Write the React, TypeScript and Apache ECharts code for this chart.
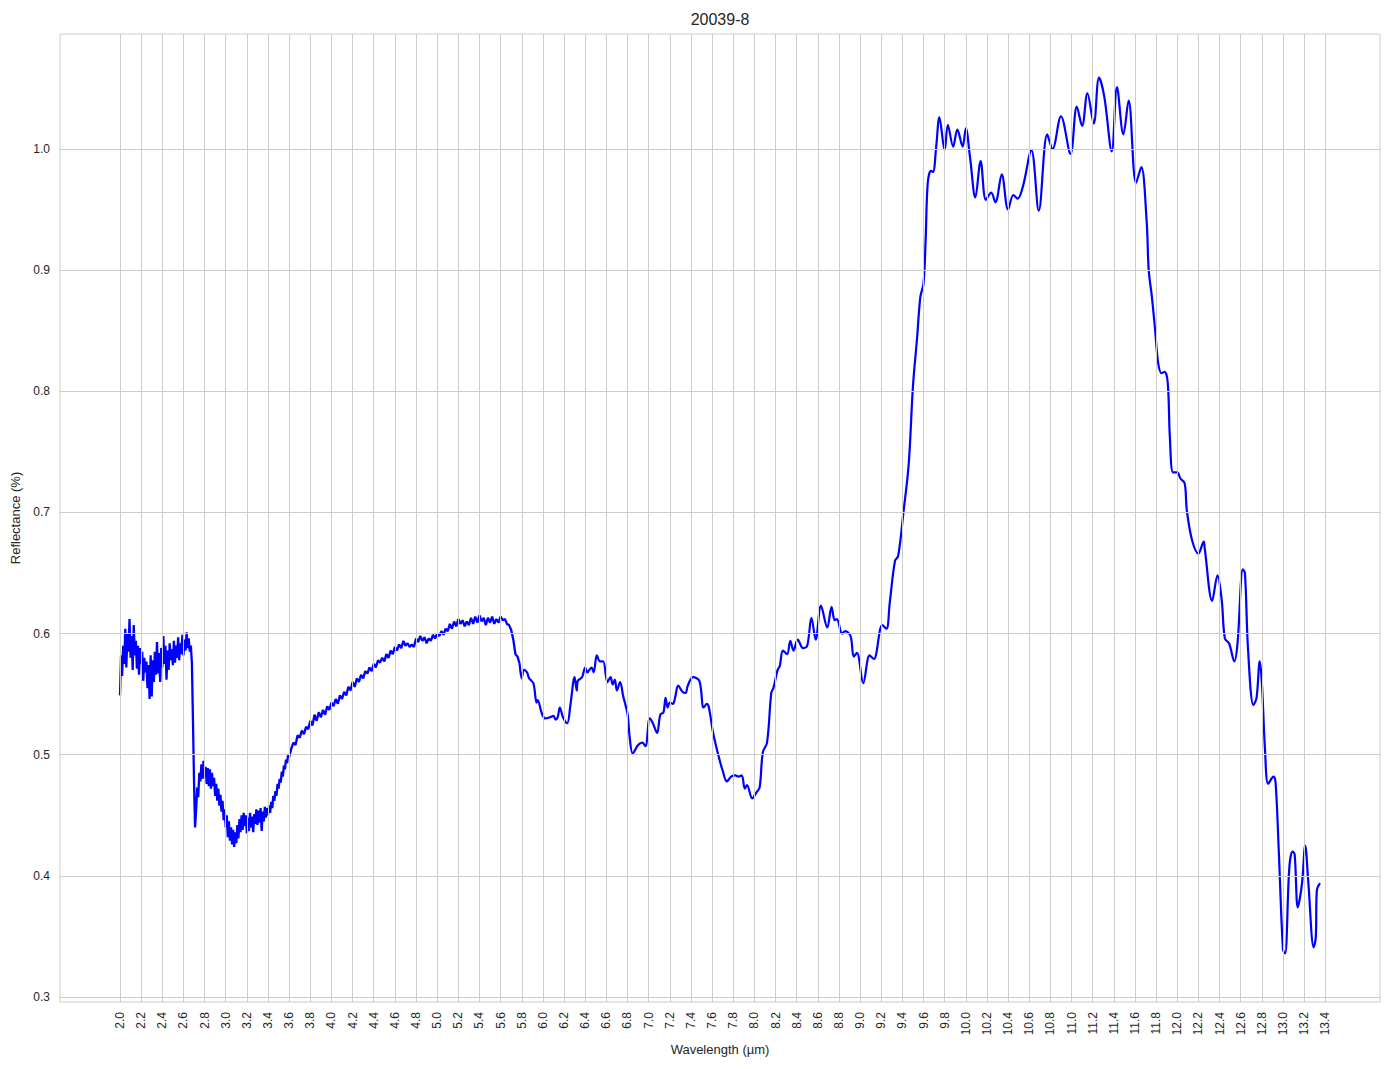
import React, { useEffect, useRef } from "react";
import * as echarts from "echarts";

// Noisy part of the spectrum: 2.00 .. 3.60 µm, every 0.01 µm
const noisyStart = 2.0;
const noisyStep = 0.01;
const noisyValues = [
  0.549, 0.582, 0.565, 0.590, 0.575, 0.604, 0.572, 0.600, 0.585, 0.612, // 2.00
  0.580, 0.598, 0.570, 0.607, 0.582, 0.594, 0.571, 0.590, 0.566, 0.588, // 2.10
  0.575, 0.585, 0.561, 0.580, 0.568, 0.577, 0.555, 0.574, 0.546, 0.582, // 2.20
  0.548, 0.578, 0.560, 0.585, 0.566, 0.593, 0.567, 0.584, 0.560, 0.588, // 2.30
  0.572, 0.598, 0.575, 0.590, 0.562, 0.586, 0.570, 0.592, 0.578, 0.587, // 2.40
  0.574, 0.594, 0.576, 0.590, 0.580, 0.597, 0.578, 0.592, 0.583, 0.599, // 2.50
  0.582, 0.595, 0.586, 0.601, 0.588, 0.596, 0.585, 0.590, 0.576, 0.529, // 2.60
  0.479, 0.440, 0.454, 0.473, 0.465, 0.485, 0.478, 0.492, 0.480, 0.495, // 2.70
  0.481, 0.490, 0.476, 0.489, 0.474, 0.488, 0.472, 0.485, 0.474, 0.481, // 2.80
  0.466, 0.476, 0.462, 0.472, 0.458, 0.467, 0.453, 0.462, 0.446, 0.455, // 2.90
  0.440, 0.450, 0.432, 0.445, 0.429, 0.440, 0.426, 0.438, 0.424, 0.436, // 3.00
  0.427, 0.442, 0.431, 0.447, 0.436, 0.450, 0.438, 0.452, 0.441, 0.450, // 3.10
  0.435, 0.448, 0.437, 0.452, 0.440, 0.449, 0.436, 0.451, 0.443, 0.455, // 3.20
  0.442, 0.454, 0.444, 0.456, 0.437, 0.453, 0.445, 0.457, 0.448, 0.456, // 3.30
  0.450, 0.458, 0.452, 0.461, 0.456, 0.466, 0.462, 0.470, 0.466, 0.476, // 3.40
  0.472, 0.480, 0.477, 0.486, 0.482, 0.491, 0.488, 0.496, 0.493, 0.500, // 3.50
  0.498, // 3.60
];

// Mildly noisy part: 3.62 .. 5.78 µm, every 0.02 µm
const midStart = 3.62;
const midStep = 0.02;
const midValues = [
  0.505, 0.510, 0.508, 0.516, 0.514, 0.520, 0.517, 0.523, 0.521, 0.528, // 3.62
  0.524, 0.533, 0.528, 0.535, 0.531, 0.537, 0.533, 0.540, 0.537, 0.543, // 3.82
  0.540, 0.546, 0.542, 0.549, 0.546, 0.552, 0.549, 0.556, 0.553, 0.560, // 4.02
  0.556, 0.563, 0.560, 0.566, 0.563, 0.569, 0.567, 0.572, 0.569, 0.575, // 4.22
  0.572, 0.578, 0.576, 0.580, 0.577, 0.583, 0.580, 0.586, 0.583, 0.589, // 4.42
  0.586, 0.591, 0.588, 0.594, 0.590, 0.592, 0.589, 0.591, 0.589, 0.596, // 4.62
  0.593, 0.598, 0.594, 0.597, 0.592, 0.596, 0.594, 0.599, 0.596, 0.600, // 4.82
  0.598, 0.602, 0.599, 0.604, 0.602, 0.608, 0.604, 0.610, 0.606, 0.612, // 5.02
  0.608, 0.611, 0.606, 0.610, 0.607, 0.613, 0.608, 0.614, 0.609, 0.615, // 5.22
  0.610, 0.613, 0.607, 0.613, 0.609, 0.614, 0.608, 0.612, 0.609, 0.614, // 5.42
  0.611, 0.612, 0.608, 0.607, 0.603, 0.595, 0.583, 0.581, 0.575, // 5.62 .. 5.78
];

// Smooth part: 5.80 .. 13.35 µm
const smoothWavelengths = [
  5.8, 5.82, 5.85, 5.87, 5.91, 5.94, 5.95, 5.99, 6.02, 6.07,
  6.1, 6.12, 6.14, 6.16, 6.19, 6.23, 6.26, 6.3, 6.32, 6.33,
  6.37, 6.4, 6.42, 6.46, 6.48, 6.51, 6.54, 6.57, 6.61, 6.64,
  6.66, 6.68, 6.7, 6.73, 6.76, 6.8, 6.82, 6.85, 6.9, 6.94,
  6.97, 7.01, 7.04, 7.08, 7.11, 7.14, 7.16, 7.18, 7.2, 7.23,
  7.25, 7.28, 7.32, 7.35, 7.37, 7.42, 7.48, 7.52, 7.55, 7.57,
  7.61, 7.67, 7.7, 7.74, 7.78, 7.82, 7.85, 7.88, 7.91, 7.93,
  7.98, 8.02, 8.05, 8.08, 8.12, 8.16, 8.18, 8.22, 8.24, 8.27,
  8.31, 8.34, 8.37, 8.41, 8.46, 8.5, 8.54, 8.58, 8.63, 8.69,
  8.73, 8.76, 8.78, 8.83, 8.86, 8.91, 8.94, 8.97, 9.03, 9.09,
  9.13, 9.21, 9.25, 9.28, 9.33, 9.36, 9.41, 9.46, 9.5, 9.54,
  9.57, 9.6, 9.62, 9.64, 9.67, 9.69, 9.72, 9.75, 9.8, 9.83,
  9.88, 9.92, 9.97, 10.0, 10.04, 10.09, 10.14, 10.19, 10.24, 10.28,
  10.34, 10.4, 10.45, 10.49, 10.54, 10.62, 10.69, 10.77, 10.82, 10.9,
  10.99, 11.05, 11.1, 11.15, 11.21, 11.26, 11.31, 11.38, 11.43, 11.49,
  11.54, 11.61, 11.66, 11.71, 11.73, 11.76, 11.79, 11.82, 11.85, 11.88,
  11.91, 11.93, 11.96, 12.0, 12.03, 12.07, 12.09, 12.14, 12.2, 12.25,
  12.26, 12.33, 12.38, 12.42, 12.45, 12.49, 12.54, 12.57, 12.62, 12.64,
  12.67, 12.72, 12.75, 12.78, 12.8, 12.83, 12.86, 12.91, 12.93, 12.96,
  13.0, 13.02, 13.06, 13.09, 13.11, 13.14, 13.18, 13.21, 13.24, 13.29,
  13.31, 13.32, 13.35,
];
const smoothValues = [
  0.563, 0.570, 0.568, 0.563, 0.559, 0.543, 0.545, 0.534, 0.530, 0.531,
  0.532, 0.529, 0.531, 0.539, 0.531, 0.526, 0.541, 0.564, 0.553, 0.561,
  0.564, 0.572, 0.568, 0.572, 0.568, 0.582, 0.577, 0.577, 0.560, 0.564,
  0.558, 0.562, 0.553, 0.560, 0.548, 0.534, 0.515, 0.501, 0.508, 0.510,
  0.507, 0.530, 0.526, 0.518, 0.533, 0.535, 0.547, 0.539, 0.543, 0.542,
  0.547, 0.557, 0.552, 0.551, 0.557, 0.564, 0.561, 0.539, 0.542, 0.539,
  0.518, 0.496, 0.487, 0.478, 0.482, 0.483, 0.482, 0.483, 0.472, 0.475,
  0.464, 0.469, 0.473, 0.502, 0.510, 0.551, 0.555, 0.570, 0.573, 0.586,
  0.583, 0.594, 0.586, 0.595, 0.588, 0.590, 0.613, 0.595, 0.623, 0.605,
  0.622, 0.611, 0.612, 0.600, 0.602, 0.598, 0.581, 0.584, 0.559, 0.582,
  0.579, 0.607, 0.604, 0.625, 0.660, 0.664, 0.700, 0.740, 0.804, 0.845,
  0.878, 0.889, 0.925, 0.972, 0.982, 0.981, 1.002, 1.026, 0.999, 1.020,
  1.002, 1.016, 1.002, 1.017, 0.993, 0.960, 0.990, 0.958, 0.964, 0.956,
  0.979, 0.950, 0.962, 0.959, 0.969, 0.999, 0.949, 1.012, 1.000, 1.027,
  0.996, 1.035, 1.019, 1.046, 1.021, 1.059, 1.043, 0.998, 1.051, 1.012,
  1.040, 0.972, 0.985, 0.941, 0.900, 0.878, 0.851, 0.823, 0.815, 0.816,
  0.807, 0.762, 0.733, 0.733, 0.728, 0.724, 0.702, 0.677, 0.666, 0.676,
  0.670, 0.627, 0.648, 0.628, 0.596, 0.592, 0.577, 0.592, 0.653, 0.650,
  0.586, 0.541, 0.547, 0.577, 0.560, 0.504, 0.476, 0.482, 0.477, 0.421,
  0.339, 0.336, 0.407, 0.420, 0.418, 0.374, 0.394, 0.425, 0.394, 0.341,
  0.349, 0.388, 0.394,
];

const xTicks = [
  2.0, 2.2, 2.4, 2.6, 2.8, 3.0, 3.2, 3.4, 3.6, 3.8,
  4.0, 4.2, 4.4, 4.6, 4.8, 5.0, 5.2, 5.4, 5.6, 5.8,
  6.0, 6.2, 6.4, 6.6, 6.8, 7.0, 7.2, 7.4, 7.6, 7.8,
  8.0, 8.2, 8.4, 8.6, 8.8, 9.0, 9.2, 9.4, 9.6, 9.8,
  10.0, 10.2, 10.4, 10.6, 10.8, 11.0, 11.2, 11.4, 11.6, 11.8,
  12.0, 12.2, 12.4, 12.6, 12.8, 13.0, 13.2, 13.4,
];
const yTicks = [0.3, 0.4, 0.5, 0.6, 0.7, 0.8, 0.9, 1.0];

const chartTitle = "20039-8";
const xName = "Wavelength (µm)";
const yName = "Reflectance (%)";

export default function App() {
  const ref = useRef<HTMLDivElement>(null);

  useEffect(() => {
    document.body.style.margin = "0";
    if (!ref.current) return;
    const chart = echarts.init(ref.current, null, { renderer: "svg" });

    const roughData: number[][] = [
      ...noisyValues.map((v, i) => [+(noisyStart + i * noisyStep).toFixed(2), v]),
      ...midValues.map((v, i) => [+(midStart + i * midStep).toFixed(2), v]),
    ];
    const last = roughData[roughData.length - 1];
    const smoothData: number[][] = [
      [last[0], last[1]],
      ...smoothWavelengths.map((w, i) => [w, smoothValues[i]]),
    ];

    const font = "'Liberation Sans', Arial, sans-serif";
    const textColor = "#262626";
    const gridColor = "#cccccc";

    chart.setOption({
      animation: false,
      backgroundColor: "#ffffff",
      title: {
        text: chartTitle,
        left: 715,
        top: 6,
        textAlign: "center",
        textStyle: { fontFamily: font, fontSize: 16, fontWeight: "normal", color: textColor },
      },
      grid: {
        left: 60,
        right: 14,
        top: 34,
        bottom: 67,
        show: true,
        borderColor: gridColor,
        borderWidth: 1,
        backgroundColor: "transparent",
      },
      xAxis: {
        type: "value",
        min: 1.4325,
        max: 13.9175,
        name: xName,
        nameLocation: "middle",
        nameGap: 40,
        nameTextStyle: { fontFamily: font, fontSize: 13, color: textColor },
        axisLine: { show: false },
        axisTick: { show: false, customValues: xTicks },
        splitLine: { show: false },
        axisLabel: {
          customValues: xTicks,
          rotate: 90,
          margin: 10,
          fontFamily: font,
          fontSize: 12,
          color: textColor,
          formatter: (v: number) => v.toFixed(1),
        },
      },
      yAxis: {
        type: "value",
        min: 0.2959,
        max: 1.0949,
        name: yName,
        nameLocation: "middle",
        nameGap: 30,
        nameTextStyle: { fontFamily: font, fontSize: 13, color: textColor },
        axisLine: { show: false },
        axisTick: { show: false, customValues: yTicks },
        splitLine: { show: false },
        axisLabel: {
          customValues: yTicks,
          margin: 10,
          fontFamily: font,
          fontSize: 12,
          color: textColor,
          formatter: (v: number) => v.toFixed(1),
        },
      },
      series: [
        {
          type: "line",
          data: [],
          silent: true,
          z: 1,
          markLine: {
            silent: true,
            symbol: ["none", "none"],
            label: { show: false },
            emphasis: { disabled: true },
            lineStyle: { color: gridColor, width: 1, type: "solid" },
            data: [
              ...xTicks.map((v) => ({ xAxis: v })),
              ...yTicks.map((v) => ({ yAxis: v })),
            ],
          },
        },
        {
          type: "line",
          data: roughData,
          showSymbol: false,
          symbol: "none",
          z: 3,
          lineStyle: { color: "#0000ff", width: 2.3 },
          itemStyle: { color: "#0000ff" },
        },
        {
          type: "line",
          data: smoothData,
          showSymbol: false,
          symbol: "none",
          smooth: 0.35,
          z: 3,
          lineStyle: { color: "#0000ff", width: 2.2 },
          itemStyle: { color: "#0000ff" },
        },
      ],
    });

    return () => chart.dispose();
  }, []);

  return <div ref={ref} style={{ width: 1394, height: 1069 }} />;
}
